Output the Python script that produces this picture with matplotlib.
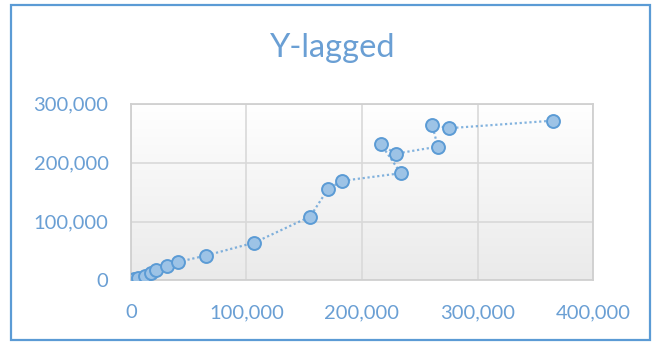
import numpy as np
import matplotlib
matplotlib.use("Agg")
import matplotlib.pyplot as plt
from matplotlib.colors import LinearSegmentedColormap
from matplotlib.patches import Rectangle
from matplotlib.ticker import FuncFormatter

# Series values (x, lagged y), in plotting order
x_vals = [1500, 3100, 6600, 12400, 17300, 21900, 31400, 41200, 64900, 106900,
          155100, 170700, 182500, 233600, 216500, 229200, 265600, 260600,
          275100, 365600]
y_vals = [1200, 2700, 4900, 8300, 12400, 17500, 24300, 31600, 42300, 64300,
          108500, 155500, 169100, 182200, 231200, 215400, 227300, 264700,
          258600, 271500]

x_ticks = [0, 100000, 200000, 300000, 400000]
y_ticks = [0, 100000, 200000, 300000]
title = "Y-lagged"

BLUE = "#5b9bd5"
LABEL_BLUE = "#6a9fd4"
GRID = "#d9d9d9"

plt.rcParams["font.family"] = ["Lato", "DejaVu Sans"]

fig = plt.figure(figsize=(6.54, 3.45), dpi=100)
ax = fig.add_axes([0.200, 0.187, 0.707, 0.512])

# soft white-to-grey fill of the plot area
grad = np.linspace(1.0, 0.0, 256).reshape(-1, 1)
bg_cmap = LinearSegmentedColormap.from_list("bg", ["#eaeaea", "#ffffff"])
ax.imshow(grad, extent=[0, 1, 0, 1], transform=ax.transAxes, aspect="auto",
          cmap=bg_cmap, vmin=0, vmax=1, zorder=0)

ax.plot(x_vals, y_vals, linestyle=(0, (1, 1.2)), color=BLUE, alpha=0.75,
        linewidth=1.6, zorder=2)
ax.plot(x_vals, y_vals, linestyle="none", marker="o", markersize=9.3,
        markerfacecolor="#9dc3e6", markeredgecolor=BLUE, markeredgewidth=1.4,
        zorder=3)

ax.set_xlim(0, 400000)
ax.set_ylim(0, 300000)
ax.set_xticks(x_ticks)
ax.set_yticks(y_ticks)
fmt = FuncFormatter(lambda v, p: f"{int(v):,}")
ax.xaxis.set_major_formatter(fmt)
ax.yaxis.set_major_formatter(fmt)

ax.grid(True, color=GRID, linewidth=1.2)
ax.set_axisbelow(True)
ax.tick_params(length=0, labelsize=14.5, labelcolor=LABEL_BLUE)
ax.tick_params(axis="x", pad=17)
ax.tick_params(axis="y", pad=16)
for s in ax.spines.values():
    s.set_color("#d0d0d0")
    s.set_linewidth(1.3)

fig.text(0.508, 0.862, title, ha="center", va="center", fontsize=23.5,
         color=LABEL_BLUE)

# outer frame of the chart
fig.patches.append(Rectangle((11 / 654, 5 / 345), 639 / 654, 335 / 345,
                             transform=fig.transFigure, fill=False,
                             edgecolor=BLUE, linewidth=1.6))

fig.savefig("out.png", dpi=100)
